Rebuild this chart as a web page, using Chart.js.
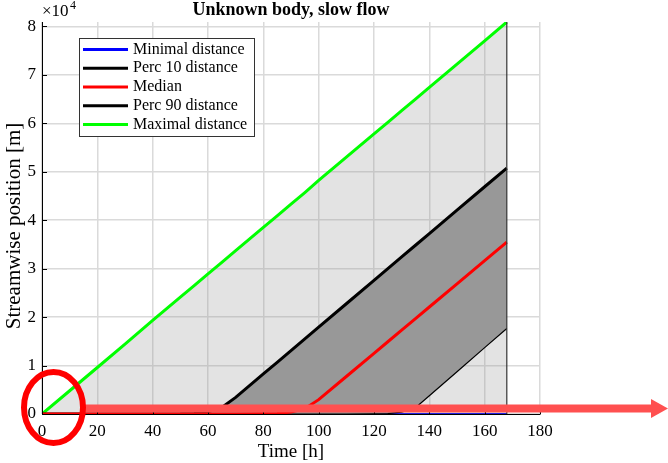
<!DOCTYPE html>
<html>
<head>
<meta charset="utf-8">
<script src="https://cdn.jsdelivr.net/npm/chart.js@4/dist/chart.umd.min.js"></script>
<style>
  html, body { margin: 0; padding: 0; background: #fff; }
  #wrap { width: 668px; height: 463px; position: relative; }
</style>
</head>
<body>
<div id="wrap"><canvas id="dist" width="668" height="463"></canvas></div>
<script>
// time samples [h]
var hours = [0, 10, 20, 30, 40, 50, 55, 60, 65, 70, 80, 85, 90, 95, 100, 110, 120, 125, 130, 135, 140, 150, 160, 168]

// streamwise position [m] per statistic
var minDist   = [0, 0, 0, 0, 0, 0, 0, 0, 0, 0, 0, 0, 0, 0, 0, 0, 0, 0, 0, 0, 0, 0, 0, 0]
var perc10    = [0, 0, 0, 0, 0, 0, 0, 0, 0, 0, 0, 0, 0, 0, 0, 0, 20, 80, 400, 1300, 3770, 8730, 13690, 17660]
var median    = [0, 0, 0, 0, 0, 0, 0, 0, 0, 0, 30, 100, 400, 1100, 2960, 7740, 12520, 14910, 17300, 19690, 22080, 26860, 31640, 35460]
var perc90    = [0, 0, 0, 0, 0, 30, 120, 450, 1350, 3430, 8260, 10670, 13090, 15500, 17920, 22750, 27580, 30000, 32410, 34830, 37240, 42070, 46900, 50760]
var maxDist   = [0, 4800, 9600, 14400, 19300, 24100, 26500, 28900, 31300, 33700, 38500, 40900, 43300, 45700, 48200, 53000, 57800, 60200, 62600, 65000, 67400, 72200, 77000, 80900]

var xTicks = [0, 20, 40, 60, 80, 100, 120, 140, 160, 180]
var yTicks = [0, 1, 2, 3, 4, 5, 6, 7, 8]   // x 10^4

var serif = '"Liberation Serif", "DejaVu Serif", serif'

function pts(vals) {
  var out = []
  for (var i = 0; i < hours.length; i++) {
    out[out.length] = { x: hours[i], y: vals[i] }
  }
  return out
}

// legend, frame ticks, annotations
var overlay = {
  id: 'overlay',
  afterDraw: function(chart) {
    var ctx = chart.ctx
    var xs = chart.scales.x, ys = chart.scales.y
    var area = chart.chartArea
    ctx.save()

    // patch edge at the last sample
    var xe = xs.getPixelForValue(hours[hours.length - 1])
    ctx.strokeStyle = '#333'
    ctx.lineWidth = 1.2
    ctx.beginPath()
    ctx.moveTo(xe, ys.getPixelForValue(0))
    ctx.lineTo(xe, ys.getPixelForValue(maxDist[maxDist.length - 1]))
    ctx.stroke()

    // inward ticks
    ctx.strokeStyle = '#000'
    ctx.lineWidth = 1
    ctx.beginPath()
    xTicks.forEach(function(v) {
      var px = Math.round(xs.getPixelForValue(v)) + 0.5
      ctx.moveTo(px, area.bottom)
      ctx.lineTo(px, area.bottom - 5)
    })
    yTicks.forEach(function(v) {
      var py = Math.round(ys.getPixelForValue(v * 1e4)) + 0.5
      ctx.moveTo(area.left, py)
      ctx.lineTo(area.left + 5, py)
    })
    ctx.stroke()

    // title
    ctx.fillStyle = '#000'
    ctx.font = 'bold 18px ' + serif
    ctx.textAlign = 'center'
    ctx.textBaseline = 'middle'
    ctx.fillText('Unknown body, slow flow', (area.left + area.right) / 2, 10)

    // exponent
    ctx.font = '17px ' + serif
    ctx.textAlign = 'left'
    ctx.fillText('\u00d710', 42, 12)
    ctx.font = '12px ' + serif
    ctx.fillText('4', 70, 6)

    // axis titles
    ctx.font = '19px ' + serif
    ctx.textAlign = 'center'
    ctx.fillText('Time [h]', (area.left + area.right) / 2, 452)
    ctx.save()
    ctx.translate(14, 226)
    ctx.rotate(-Math.PI / 2)
    ctx.font = '21px ' + serif
    ctx.fillText('Streamwise position [m]', 0, 0)
    ctx.restore()

    // legend box
    var lx = 79, ly = 38, lw = 175, lh = 98
    ctx.fillStyle = '#fff'
    ctx.fillRect(lx, ly, lw, lh)
    ctx.strokeStyle = '#333'
    ctx.lineWidth = 1
    ctx.strokeRect(lx + 0.5, ly + 0.5, lw, lh)
    ctx.font = '16px ' + serif
    ctx.textAlign = 'left'
    var rows = [0, 1, 2, 3, 4]
    rows.forEach(function(i) {
      var ds = chart.data.datasets[i]
      var y = 49.5 + i * 18.75
      ctx.strokeStyle = ds.borderColor
      ctx.lineWidth = 3
      ctx.beginPath()
      ctx.moveTo(83, y)
      ctx.lineTo(128, y)
      ctx.stroke()
      ctx.fillStyle = '#000'
      ctx.fillText(ds.label, 133, y)
    })

    // highlight: arrow along the time axis
    var ay = 408.5
    ctx.fillStyle = '#ff5050'
    ctx.fillRect(82, ay - 4, 571, 8)
    ctx.beginPath()
    ctx.moveTo(651, ay - 9.5)
    ctx.lineTo(668, ay)
    ctx.lineTo(651, ay + 9.5)
    ctx.closePath()
    ctx.fill()

    // highlight: ring around the origin
    ctx.strokeStyle = '#ff0000'
    ctx.lineWidth = 6
    ctx.beginPath()
    ctx.ellipse(53.5, 407.5, 29.5, 35.5, 0, 0, Math.PI * 2)
    ctx.stroke()

    ctx.restore()
  }
}

var chart = new Chart(document.getElementById('dist'), {
  type: 'line',
  data: {
    datasets: [
      { label: 'Minimal distance', data: pts(minDist), borderColor: '#0000ff', borderWidth: 2, fill: false, order: 5 },
      { label: 'Perc 10 distance', data: pts(perc10), borderColor: '#000000', borderWidth: 1.2, fill: false, order: 1 },
      { label: 'Median', data: pts(median), borderColor: '#ff0000', borderWidth: 3, fill: false, order: 0 },
      { label: 'Perc 90 distance', data: pts(perc90), borderColor: '#000000', borderWidth: 3, fill: 1, backgroundColor: '#989898', order: 2 },
      { label: 'Maximal distance', data: pts(maxDist), borderColor: '#00ff00', borderWidth: 3, fill: 0, backgroundColor: 'rgba(140,140,140,0.24)', order: 4 }
    ]
  },
  options: {
    responsive: false,
    animation: false,
    devicePixelRatio: 1,
    layout: { padding: { top: 22, right: 128, left: 0, bottom: 0 } },
    elements: { point: { radius: 0 }, line: { tension: 0 } },
    plugins: { legend: { display: false }, tooltip: { enabled: false } },
    scales: {
      x: {
        type: 'linear',
        min: 0,
        max: 180,
        afterFit: function(s) { s.height = 49 },
        afterBuildTicks: function(s) { s.ticks = xTicks.map(function(v) { return { value: v } }) },
        grid: { color: '#dadada', lineWidth: 1.5, drawTicks: false },
        border: { display: true, color: '#000', width: 1 },
        ticks: { color: '#000', padding: 7, maxRotation: 0, font: { family: serif, size: 17 } }
      },
      y: {
        type: 'linear',
        min: 0,
        max: 80900,
        afterFit: function(s) { s.width = 42 },
        afterBuildTicks: function(s) { s.ticks = yTicks.map(function(v) { return { value: v * 1e4 } }) },
        grid: { color: '#dadada', lineWidth: 1.5, drawTicks: false },
        border: { display: true, color: '#000', width: 1 },
        ticks: {
          color: '#000', padding: 6, font: { family: serif, size: 17 },
          callback: function(v) { return String(v / 1e4) }
        }
      }
    }
  },
  plugins: [overlay]
})
</script>
</body>
</html>
